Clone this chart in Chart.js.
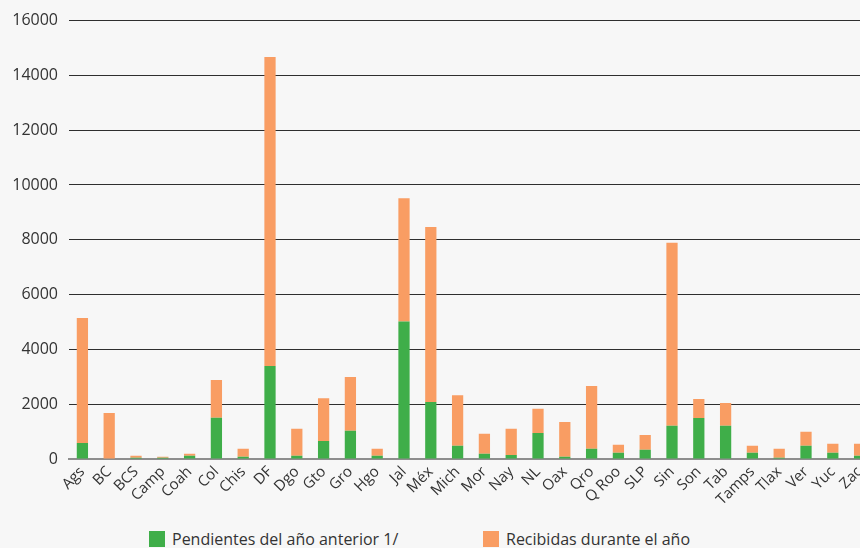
<!DOCTYPE html>
<html lang="es">
<head>
<meta charset="utf-8">
<title>Quejas por entidad federativa</title>
<script src="https://cdn.jsdelivr.net/npm/chart.js@4.4.1/dist/chart.umd.min.js"></script>
<style>
  html, body { margin: 0; padding: 0; background: #f7f7f7; overflow: hidden; }
  body { width: 860px; height: 548px; position: relative; font-family: "Open Sans", sans-serif; }
  #wrap { position: absolute; left: 0; top: 0; width: 880px; height: 510px; }
  #legend { position: absolute; top: 528px; left: 0; width: 860px; height: 20px; color: #333; font-size: 16px; }
  .item { position: absolute; top: 0; display: flex; align-items: center; white-space: nowrap; }
  .sw { width: 16px; height: 16px; margin-right: 7px; display: inline-block; }
</style>
</head>
<body>
<div id="wrap"><canvas id="chart" width="880" height="510"></canvas></div>
<div id="legend"></div>
<script>
// Entidades federativas (abreviaturas)
const categories = ["Ags","BC","BCS","Camp","Coah","Col","Chis","DF","Dgo","Gto","Gro","Hgo","Jal","Méx","Mich","Mor","Nay","NL","Oax","Qro","Q Roo","SLP","Sin","Son","Tab","Tamps","Tlax","Ver","Yuc","Zac"];

// Pendientes del año anterior
const pendientes = [580, 0, 50, 50, 120, 1510, 85, 3390, 120, 660, 1030, 120, 5020, 2080, 480, 190, 150, 950, 85, 370, 230, 340, 1210, 1500, 1210, 230, 45, 480, 230, 120];

// Recibidas durante el año
const recibidas = [4570, 1680, 70, 30, 70, 1370, 285, 11280, 980, 1560, 1960, 250, 4500, 6390, 1850, 730, 950, 880, 1265, 2290, 290, 540, 6680, 690, 830, 250, 325, 510, 330, 440];

const seriesLabels = ["Pendientes del año anterior 1/", "Recibidas durante el año"];
const seriesColors = ["#3fae49", "#f99d63"];

const yTicks = [0, 2000, 4000, 6000, 8000, 10000, 12000, 14000, 16000];

const textColor = "#333333";

new Chart(document.getElementById("chart"), {
  type: "bar",
  data: {
    labels: categories,
    datasets: [
      { label: seriesLabels[0], data: pendientes, backgroundColor: seriesColors[0], borderWidth: 0 },
      { label: seriesLabels[1], data: recibidas, backgroundColor: seriesColors[1], borderWidth: 0 }
    ]
  },
  options: {
    responsive: false,
    animation: false,
    layout: { padding: { top: 18, right: 7, bottom: 0, left: 0 } },
    datasets: { bar: { categoryPercentage: 1, barPercentage: 0.42 } },
    plugins: { legend: { display: false }, tooltip: { enabled: false } },
    scales: {
      x: {
        stacked: true,
        grid: { display: false, drawTicks: false },
        border: { display: true, color: "#8e8e8e", width: 2 },
        ticks: {
          color: textColor,
          font: { family: "Open Sans", size: 15 },
          minRotation: 45, maxRotation: 45,
          autoSkip: false,
          padding: 4
        },
        afterFit: (s) => { s.height = 51; }
      },
      y: {
        stacked: true,
        min: yTicks[0],
        max: yTicks[yTicks.length - 1],
        afterBuildTicks: (s) => { s.ticks = yTicks.map(v => ({ value: v })); },
        grid: {
          drawTicks: false,
          color: (ctx) => ctx.tick && ctx.tick.value === 0 ? "rgba(0,0,0,0)" : "#2e2e2e",
          lineWidth: 1
        },
        border: { display: false },
        ticks: {
          color: textColor,
          font: { family: "Open Sans", size: 16 },
          padding: 11,
          callback: (v) => String(v)
        },
        afterFit: (s) => { s.width = 69; }
      }
    }
  }
});

// Leyenda inferior
const legend = document.getElementById("legend");
const legendX = [149, 483];
seriesLabels.forEach((lab, i) => {
  const it = document.createElement("div");
  it.className = "item";
  it.style.left = legendX[i] + "px";
  const sw = document.createElement("span");
  sw.className = "sw";
  sw.style.background = seriesColors[i];
  const tx = document.createElement("span");
  tx.textContent = lab;
  it.appendChild(sw);
  it.appendChild(tx);
  legend.appendChild(it);
});
</script>
</body>
</html>
